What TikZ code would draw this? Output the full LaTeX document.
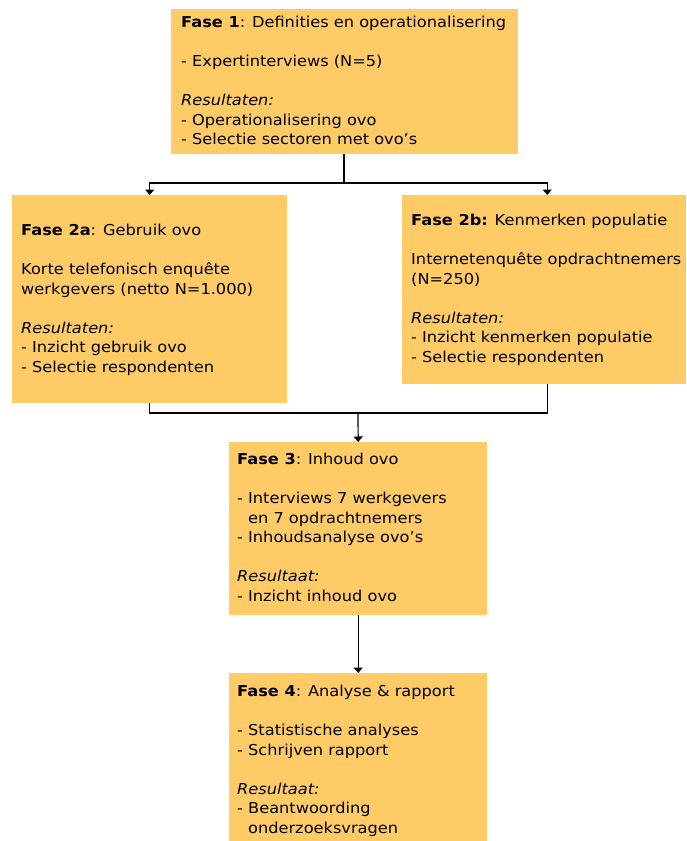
\documentclass[tikz,border=0pt]{standalone}
\usepackage{fontspec}
\setmainfont{DejaVu Sans}[FakeStretch=1.08]
\usetikzlibrary{arrows.meta}
\definecolor{boxfill}{RGB}{254,203,102}
\tikzset{
  box/.style={draw=none, fill=boxfill, rectangle, inner sep=0pt, anchor=north west},
  txt/.style={anchor=north west, inner sep=0pt, align=left, font=\fontsize{15}{19.6}\selectfont},
  conn/.style={line width=1.2pt, draw=black},
  arr/.style={conn, -{Triangle[width=9pt,length=5.5pt]}}
}
\newcommand{\ind}{\hspace*{0.73em}}
\begin{document}
\begin{tikzpicture}[x=1pt,y=1pt]
\useasboundingbox[fill=white] (0,0) rectangle (686,-841);
% boxes
\node[box, minimum width=347pt, minimum height=145pt] (f1) at (171,-9) {};
\node[box, minimum width=275pt, minimum height=208pt] (f2a) at (12,-195) {};
\node[box, minimum width=284pt, minimum height=189pt] (f2b) at (402,-195) {};
\node[box, minimum width=258pt, minimum height=173pt] (f3) at (229,-442) {};
\node[box, minimum width=258pt, minimum height=168pt] (f4) at (229,-673) {};
% texts
\node[txt] (t1) at (181,-13.3) {\strut\textbf{Fase 1}: Definities en operationalisering\\[19.6pt]
- Expertinterviews (N=5)\\[19.6pt]
\textit{Resultaten:}\\
- Operationalisering ovo\\
- Selectie sectoren met ovo’s};
\node[txt] (t2a) at (21,-221.3) {\strut\textbf{Fase 2a}: Gebruik ovo\\[19.6pt]
Korte telefonisch enquête\\
werkgevers (netto N=1.000)\\[19.6pt]
\textit{Resultaten:}\\
- Inzicht gebruik ovo\\
- Selectie respondenten};
\node[txt] (t2b) at (411,-211.3) {\strut\textbf{Fase 2b:} Kenmerken populatie\\[19.6pt]
Internetenquête opdrachtnemers\\
(N=250)\\[19.6pt]
\textit{Resultaten:}\\
- Inzicht kenmerken populatie\\
- Selectie respondenten};
\node[txt] (t3) at (237,-450.3) {\strut\textbf{Fase 3}: Inhoud ovo\\[19.6pt]
- Interviews 7 werkgevers\\
\ind en 7 opdrachtnemers\\
- Inhoudsanalyse ovo’s\\[19.6pt]
\textit{Resultaat:}\\
- Inzicht inhoud ovo};
\node[txt] (t4) at (237,-682.3) {\strut\textbf{Fase 4}: Analyse \& rapport\\[19.6pt]
- Statistische analyses\\
- Schrijven rapport\\[19.6pt]
\textit{Resultaat:}\\
- Beantwoording\\
\ind onderzoeksvragen};
% connectors
\coordinate (c1) at (344,-183);
\coordinate (c2) at (358,-413);
\draw[conn] (f1.south -| c1) -- (c1);
\draw[arr] (c1) -| (f2a.north);
\draw[arr] (c1) -| ([xshift=3pt]f2b.north);
\draw[conn] (f2a.south) |- (c2);
\draw[conn] ([xshift=3pt]f2b.south) |- (c2);
\draw[arr] (c2) -- (f3.north);
\draw[arr] (f3.south) -- (f4.north);
\end{tikzpicture}
\end{document}
